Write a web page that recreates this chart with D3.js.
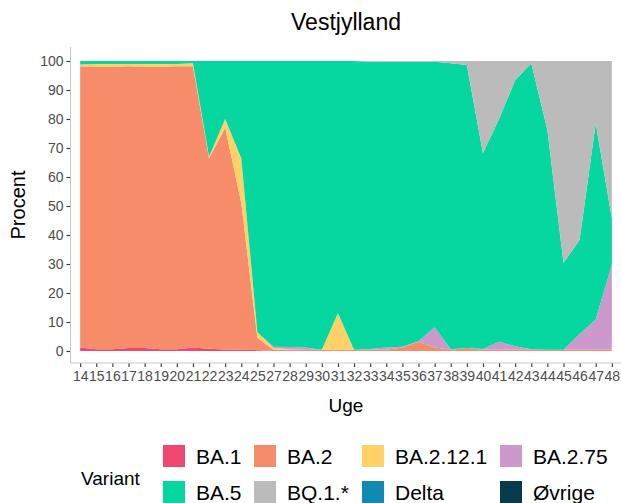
<!DOCTYPE html>
<html>
<head>
<meta charset="utf-8">
<script src="https://cdn.jsdelivr.net/npm/d3@7"></script>
<style>
  body { margin: 0; background: #fff; }
  svg { display: block; font-family: "Liberation Sans", Arial, sans-serif; }
</style>
</head>
<body>
<div id="chart"></div>
<script>
const weeks = ['14', '15', '16', '17', '18', '19', '20', '21', '22', '23', '24', '25', '27', '28', '29', '30', '31',
    '32', '33', '34', '35', '36', '37', '38', '39', '40', '41', '42', '43', '44', '45', '46', '47', '48'];

const variants = ['BA.1', 'BA.2', 'BA.2.12.1', 'BA.2.75', 'BA.5', 'BQ.1.*', 'Delta', 'Øvrige'];
const colors = ['#EF476F', '#F78C6B', '#FFD166', '#CC99CC', '#06D6A0', '#BBBBBB', '#118AB2', '#073B4C'];

const ba1 = [1.2, 0.6, 0.6, 1, 1, 0.6, 0.6, 1.2, 0.8, 0.5, 0.4, 0.3, 0, 0, 0, 0, 0,
    0, 0, 0, 0, 0, 0, 0, 0, 0, 0, 0, 0, 0, 0, 0, 0, 0];
const ba2 = [97, 97.4, 97.4, 97.2, 97, 97.4, 97.6, 97, 65.7, 76.5, 50.6, 4.2, 0.5, 0.4, 0.4, 0.4, 0.4,
    0.4, 0.4, 0.4, 1.2, 3.2, 1.2, 0.4, 1, 0.4, 0.4, 0.4, 0.4, 0.4, 0.4, 0.4, 0.4, 0.4];
const ba2121 = [0.6, 1, 1, 0.8, 1, 1, 0.8, 1, 0.5, 3, 15.5, 2, 0.5, 0.2, 0, 0, 12.6,
    0, 0, 0, 0, 0, 0, 0, 0, 0, 0, 0, 0, 0, 0, 0, 0, 0];
const ba275 = [0, 0, 0, 0, 0, 0, 0, 0, 0, 0, 0, 0, 0.5, 0.8, 0.8, 0, 0,
    0, 0.3, 0.8, 0.3, 0.2, 7, 0.2, 0, 0.3, 2.8, 1.2, 0.2, 0, 0, 5.5, 10.5, 29.3];
const ba5 = [1.2, 1, 1, 1, 1, 1, 1, 0.8, 33, 20, 33.5, 93.5, 98.5, 98.6, 98.8, 99.6, 87,
    99.6, 99, 98.5, 98.2, 96.3, 91.5, 98.6, 97.6, 67.5, 76.8, 91.8, 98.6, 75.8, 30, 32.4, 67.6, 16.1];
const bq1 = [0, 0, 0, 0, 0, 0, 0, 0, 0, 0, 0, 0, 0, 0, 0, 0, 0,
    0, 0.3, 0.3, 0.3, 0.3, 0.3, 0.8, 1.4, 31.8, 20, 6.6, 0.8, 23.8, 69.6, 61.7, 21.5, 54.2];
const delta = weeks.map(() => 0);
const ovrige = weeks.map(() => 0);

const yTicks = [0, 10, 20, 30, 40, 50, 60, 70, 80, 90, 100];

const series = [ba1, ba2, ba2121, ba275, ba5, bq1, delta, ovrige];
const rows = weeks.map((w, i) => {
    const row = {week: w};
    variants.forEach((v, j) => { row[v] = series[j][i]; });
    return row;
});

const width = 621;
const height = 503;
const panel = {left: 70.5, right: 621.5, top: 47, bottom: 363};

const svg = d3.select('#chart')
    .append('svg')
    .attr('width', width)
    .attr('height', height);

const x = d3.scalePoint()
    .domain(weeks)
    .range([panel.left, panel.right])
    .padding(0.6);

const y = d3.scaleLinear()
    .domain([0, 100])
    .range([351, 61]);

const layers = d3.stack().keys(variants)(rows);

const area = d3.area()
    .x((d) => x(d.data.week))
    .y0((d) => y(d[0]))
    .y1((d) => y(d[1]));

svg.append('g')
    .selectAll('path')
    .data(layers)
    .join('path')
    .attr('fill', (d, i) => colors[i])
    .attr('d', area);

// axes
const xAxis = d3.axisBottom(x).tickSize(4).tickPadding(4);
const yAxis = d3.axisLeft(y).tickValues(yTicks).tickSize(4).tickPadding(3);

const gx = svg.append('g')
    .attr('transform', `translate(0,${panel.bottom})`)
    .call(xAxis);
gx.select('.domain').remove();
gx.append('line')
    .attr('x1', panel.left).attr('x2', panel.right)
    .attr('stroke', '#c8c8c8').attr('stroke-width', 1.1);

const gy = svg.append('g')
    .attr('transform', `translate(${panel.left},0)`)
    .call(yAxis);
gy.select('.domain').remove();
gy.append('line')
    .attr('y1', panel.top).attr('y2', panel.bottom)
    .attr('stroke', '#c8c8c8').attr('stroke-width', 1.1);

svg.selectAll('.tick line').attr('stroke', '#333').attr('stroke-width', 1.1);
svg.selectAll('.tick text')
    .attr('fill', '#4d4d4d')
    .style('font-size', '14px')
    .style('font-family', '"Liberation Sans", Arial, sans-serif');

// titles
svg.append('text')
    .attr('x', (panel.left + panel.right) / 2)
    .attr('y', 30)
    .attr('text-anchor', 'middle')
    .style('font-size', '23px')
    .attr('fill', '#000')
    .text('Vestjylland');

svg.append('text')
    .attr('x', (panel.left + panel.right) / 2)
    .attr('y', 412)
    .attr('text-anchor', 'middle')
    .style('font-size', '19px')
    .attr('fill', '#000')
    .text('Uge');

svg.append('text')
    .attr('transform', `translate(25,${(panel.top + panel.bottom) / 2}) rotate(-90)`)
    .attr('text-anchor', 'middle')
    .style('font-size', '20px')
    .attr('fill', '#000')
    .text('Procent');

// legend
const legendCols = [163, 254, 362, 500];
const legendRows = [445, 481];
const legend = svg.append('g');

legend.append('text')
    .attr('x', 81)
    .attr('y', 485)
    .style('font-size', '19px')
    .attr('fill', '#000')
    .text('Variant');

variants.forEach((v, i) => {
    const cx = legendCols[i % 4];
    const cy = legendRows[Math.floor(i / 4)];
    legend.append('rect')
        .attr('x', cx).attr('y', cy)
        .attr('width', 22).attr('height', 22)
        .attr('fill', colors[i]);
    legend.append('text')
        .attr('x', cx + 33)
        .attr('y', cy + 19)
        .style('font-size', '21px')
        .attr('fill', '#000')
        .text(v);
});
</script>
</body>
</html>
